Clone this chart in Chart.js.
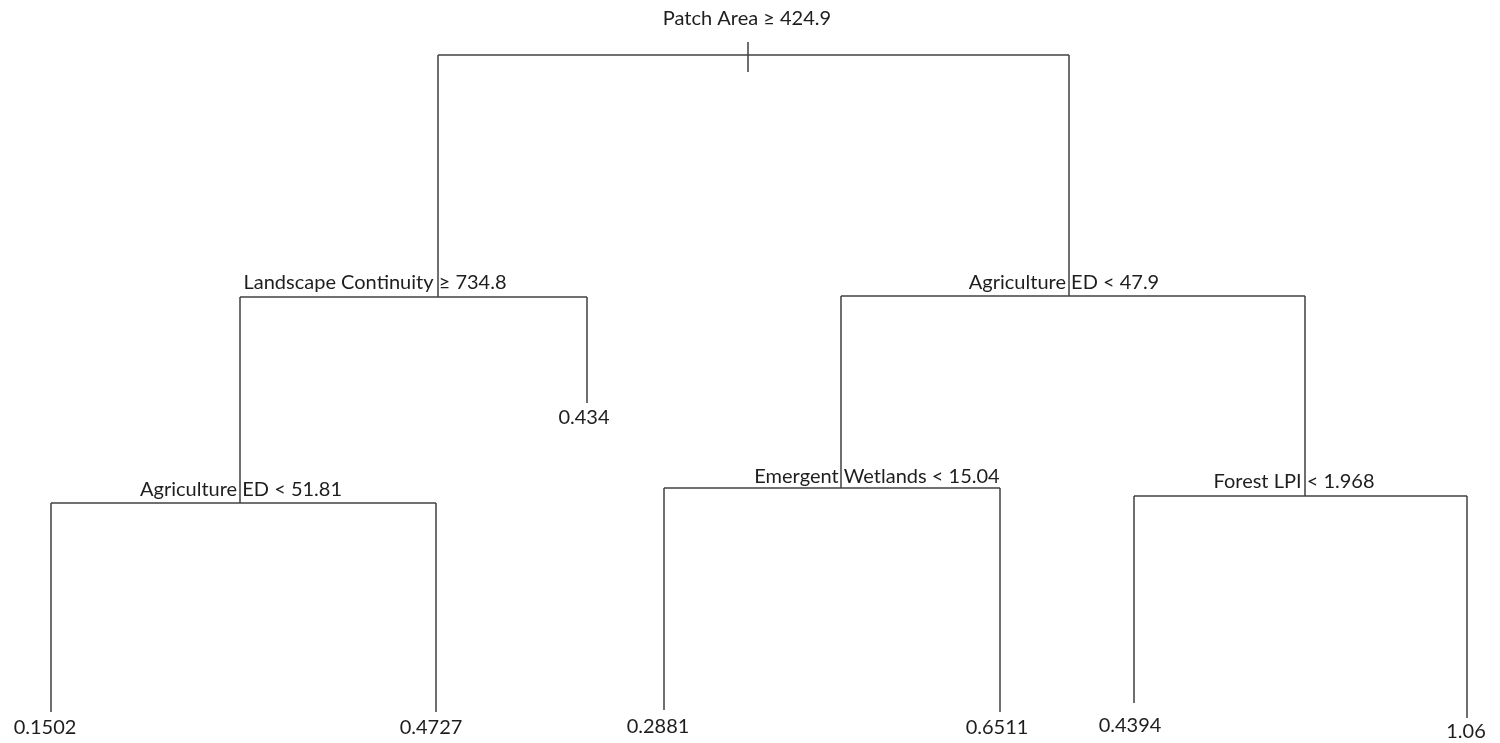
<!DOCTYPE html>
<html>
<head>
<meta charset="utf-8">
<script src="https://cdn.jsdelivr.net/npm/chart.js@4/dist/chart.umd.min.js"></script>
<style>
  html, body { margin: 0; padding: 0; background: #fff; }
  #wrap { width: 1500px; height: 743px; position: relative; }
</style>
</head>
<body>
<div id="wrap"><canvas id="tree"></canvas></div>
<script>
// Nodos de división (reglas) del árbol
const splitLabels = ['Patch Area ≥ 424.9', 'Landscape Continuity ≥ 734.8', 'Agriculture ED < 47.9',
                     'Agriculture ED < 51.81', 'Emergent Wetlands < 15.04', 'Forest LPI < 1.968'];
const splitX = [748, 438, 1069, 240, 841, 1305];       // posición horizontal del nodo
const splitY = [55, 297, 296, 503, 488, 496];          // altura de la barra de división
const splitLabelX = [747, 375, 1064, 241, 877, 1294];
const splitLabelY = [19, 283, 283, 490, 477, 482];
// hijos: 's' = división, 'l' = hoja
const splitLeft = ['s1', 's3', 's4', 'l0', 'l3', 'l5'];
const splitRight = ['s2', 'l2', 's5', 'l1', 'l4', 'l6'];

// Hojas (valores predichos)
const leafValues = ['0.1502', '0.4727', '0.434', '0.2881', '0.6511', '0.4394', '1.06'];
const leafX = [51, 436, 587, 664, 1000, 1134, 1467];
const leafY = [712, 712, 403, 710, 712, 703, 718];
const leafLabelX = [45, 431, 584, 658, 997, 1130, 1466];
const leafLabelY = [728, 728, 418, 727, 728, 726, 732];

// Marca de la raíz
const rootTickY = [42, 72];

function childX(ref) {
    const i = +ref.slice(1);
    return ref[0] === 's' ? splitX[i] : leafX[i];
}
function childY(ref) {
    const i = +ref.slice(1);
    return ref[0] === 's' ? splitY[i] : leafY[i];
}

// Construir los segmentos
const segments = [];
segments.push([{ x: splitX[0], y: rootTickY[0] }, { x: splitX[0], y: rootTickY[1] }]);
splitLabels.forEach((_, i) => {
    const y = splitY[i];
    const lx = childX(splitLeft[i]);
    const rx = childX(splitRight[i]);
    segments.push([{ x: lx, y: y }, { x: rx, y: y }]);
    segments.push([{ x: lx, y: y }, { x: lx, y: childY(splitLeft[i]) }]);
    segments.push([{ x: rx, y: y }, { x: rx, y: childY(splitRight[i]) }]);
});

const datasets = segments.map(seg => ({
    data: seg,
    showLine: true,
    borderColor: '#404040',
    borderWidth: 1.5,
    pointRadius: 0,
    pointHoverRadius: 0,
    fill: false
}));

// Plugin para las etiquetas de texto
const labelPlugin = {
    id: 'treeLabels',
    afterDatasetsDraw(chart) {
        const ctx = chart.ctx;
        const xs = chart.scales.x;
        const ys = chart.scales.y;
        ctx.save();
        ctx.font = '20px Lato, "Liberation Sans", sans-serif';
        ctx.fillStyle = '#1e1e1e';
        ctx.textAlign = 'center';
        ctx.textBaseline = 'middle';
        splitLabels.forEach((t, i) => {
            ctx.fillText(t, xs.getPixelForValue(splitLabelX[i]), ys.getPixelForValue(splitLabelY[i]));
        });
        leafValues.forEach((t, i) => {
            ctx.fillText(t, xs.getPixelForValue(leafLabelX[i]), ys.getPixelForValue(leafLabelY[i]));
        });
        ctx.restore();
    }
};

new Chart(document.getElementById('tree').getContext('2d'), {
    type: 'scatter',
    data: { datasets: datasets },
    options: {
        responsive: true,
        maintainAspectRatio: false,
        animation: false,
        layout: { padding: 0 },
        plugins: { legend: { display: false }, tooltip: { enabled: false } },
        scales: {
            x: { type: 'linear', min: 0, max: 1500, display: false },
            y: { type: 'linear', min: 0, max: 743, reverse: true, display: false }
        }
    },
    plugins: [labelPlugin]
});
</script>
</body>
</html>
